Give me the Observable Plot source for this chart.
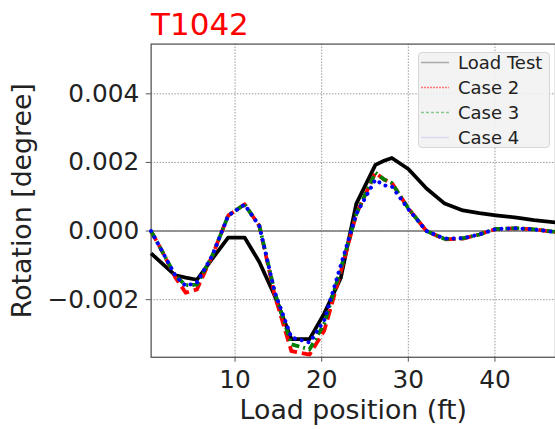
<!DOCTYPE html>
<html><head><meta charset="utf-8">
<script src="https://cdn.jsdelivr.net/npm/d3@7"></script>
<script src="https://cdn.jsdelivr.net/npm/@observablehq/plot@0.6"></script>
<style>
html,body{margin:0;padding:0;background:#fff;}
body{overflow:hidden;width:555px;height:429px;position:relative;font-family:"DejaVu Sans",sans-serif;}
#chart{position:absolute;left:0;top:0;}
#title{position:absolute;left:151px;top:9px;font-size:31px;line-height:31px;color:#ff0000;white-space:nowrap;}
#legend{position:absolute;left:418px;top:52px;width:132px;height:96px;background:rgba(242,242,242,0.9);border:1px solid #d6d6d6;border-radius:4px;box-sizing:border-box;}
.item{position:absolute;left:0;height:25px;width:130px;}
.item svg{position:absolute;left:1px;top:0;}
.item span{position:absolute;left:39px;top:0;font-size:18px;line-height:25px;color:#222;white-space:nowrap;}
</style></head>
<body>
<div id="chart"></div>
<div id="title">T1042</div>
<div id="legend"></div>
<script>
// Load positions (ft)
const positions = [0.3, 1.6, 3.1, 4.3, 5.6, 7.4, 9.2, 11.1, 12.8, 14.6, 16.5, 18.6, 20.3, 22.2, 24.0, 26.2, 27.2, 28.1, 30.0, 32.1, 34.2, 36.3, 38.2, 40.1, 42.5, 44.5, 47.0];
// Rotation [degree]
const loadTest = [-0.00065, -0.00095, -0.00129, -0.00136, -0.00142, -0.0008, -0.00019, -0.00019, -0.0009, -0.0019, -0.00315, -0.00315, -0.0024, -0.00137, 0.0008, 0.00193, 0.00205, 0.00213, 0.00181, 0.00124, 0.0008, 0.0006, 0.00052, 0.00046, 0.00039, 0.00032, 0.00025];
const case2 = [0.0, -0.0006, -0.00135, -0.0018, -0.0017, -0.0007, 0.00045, 0.00078, 0.00015, -0.0019, -0.0035, -0.0036, -0.0029, -0.0012, 0.0005, 0.0017, 0.0015, 0.0014, 0.00066, 0.0, -0.00024, -0.00022, -0.0001, 0.00006, 0.00008, 0.00005, -0.00003];
const case3 = [0.0, -0.0006, -0.0013, -0.00158, -0.00156, -0.0007, 0.00045, 0.00078, 0.00015, -0.0018, -0.0033, -0.00345, -0.0027, -0.0011, 0.0005, 0.0017, 0.0015, 0.0014, 0.00066, 0.0, -0.00023, -0.00021, -0.0001, 0.00006, 0.00008, 0.00005, -0.00003];
const case4 = [0.0, -0.0006, -0.0013, -0.0016, -0.0015, -0.0007, 0.00045, 0.00077, 0.00015, -0.0018, -0.0031, -0.00325, -0.0026, -0.001, 0.0005, 0.0015, 0.00133, 0.0013, 0.00064, 0.0, -0.00022, -0.00021, -0.0001, 0.00006, 0.00008, 0.00005, -0.00003];

const seriesNames = ["Load Test", "Case 2", "Case 3", "Case 4"];
const xTicks = [10, 20, 30, 40];
const yTicks = [-0.002, 0, 0.002, 0.004];
const xLabel = "Load position (ft)";
const yLabel = "Rotation [degree]";

const seriesValues = [loadTest, case2, case3, case4];
const styles = [
  {stroke: "#000000", strokeWidth: 3.8, strokeDasharray: null, strokeLinecap: "butt"},
  {stroke: "#ff0000", strokeWidth: 3.8, strokeDasharray: "11,5", strokeLinecap: "butt"},
  {stroke: "#008000", strokeWidth: 3.8, strokeDasharray: "8,4,2,4", strokeLinecap: "butt"},
  {stroke: "#0000ff", strokeWidth: 4, strokeDasharray: "0.1,7", strokeLinecap: "round"}
];
const legendStyles = [
  {stroke: "#aaaaaa", dash: null, w: 1.5},
  {stroke: "#ff7777", dash: "2,1", w: 1.3},
  {stroke: "#88c888", dash: "3,2", w: 1.3},
  {stroke: "#d8d8ee", dash: null, w: 1.3}
];

const lineMarks = seriesValues.map((vals, s) => {
  const data = positions.map((x, i) => ({x, y: vals[i], name: seriesNames[s]}));
  return Plot.line(data, {x: "x", y: "y", stroke: styles[s].stroke, strokeWidth: styles[s].strokeWidth,
    strokeDasharray: styles[s].strokeDasharray, strokeLinecap: styles[s].strokeLinecap, strokeLinejoin: "round"});
});

const chart = Plot.plot({
  width: 560, height: 429,
  marginLeft: 152, marginRight: 0, marginTop: 44, marginBottom: 69,
  style: {fontFamily: "DejaVu Sans", fontSize: "25px", color: "#222", background: "transparent", overflow: "visible"},
  x: {domain: [0.31, 46.99]},
  y: {domain: [-0.00368, 0.00545]},
  marks: [
    Plot.gridX(xTicks, {stroke: "#999", strokeOpacity: 1, strokeWidth: 1, strokeDasharray: "1.5,1.5"}),
    Plot.gridY(yTicks, {stroke: "#999", strokeOpacity: 1, strokeWidth: 1, strokeDasharray: "1.5,1.5"}),
    Plot.ruleY([0], {stroke: "#777", strokeWidth: 1.5}),
    Plot.frame({stroke: "#555", strokeWidth: 1.3}),
    Plot.axisX(xTicks, {tickSize: 5, tickPadding: 8, label: null, fontSize: 25, stroke: "#555"}),
    Plot.axisY(yTicks, {tickSize: 5, tickPadding: 7, label: null, tickFormat: d3.format(".3f"), fontSize: 25, stroke: "#555"}),
    Plot.text([xLabel], {frameAnchor: "bottom", dy: 43, lineAnchor: "top", textAnchor: "middle", fontSize: 27, fill: "#222"}),
    Plot.text([yLabel], {frameAnchor: "left", dx: -140, rotate: -90, lineAnchor: "top", textAnchor: "middle", fontSize: 27, fill: "#222"}),
    ...lineMarks
  ]
});
document.getElementById("chart").appendChild(chart);

const legend = document.getElementById("legend");
seriesNames.forEach((name, i) => {
  const item = document.createElement("div");
  item.className = "item";
  item.style.top = (i * 25 - 3) + "px";
  const ls = legendStyles[i];
  item.innerHTML = `<svg width="30" height="25"><line x1="1" x2="29" y1="12.5" y2="12.5" stroke="${ls.stroke}" stroke-width="${ls.w}" ${ls.dash ? `stroke-dasharray="${ls.dash}"` : ""}/></svg><span>${name}</span>`;
  legend.appendChild(item);
});
</script>
</body></html>
